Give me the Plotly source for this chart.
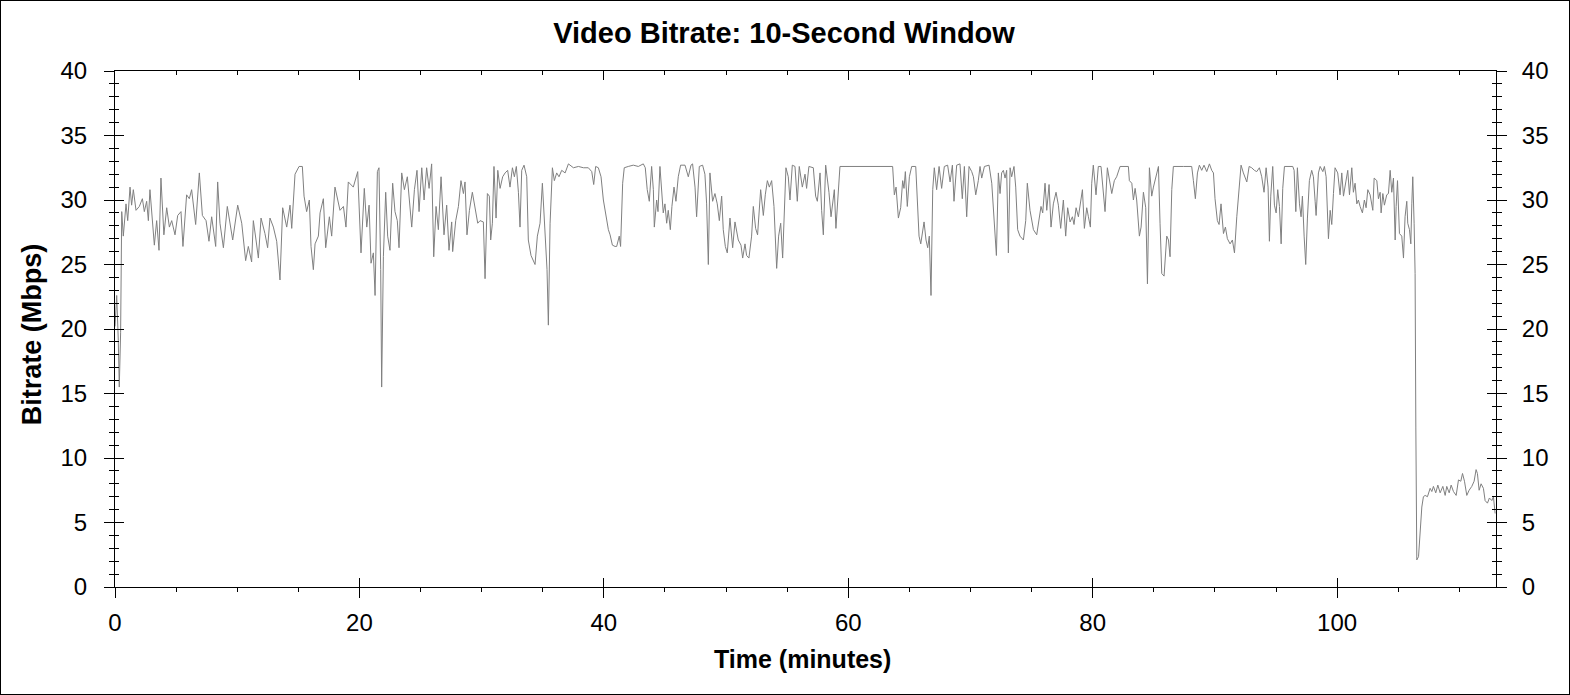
import plotly.graph_objects as go

# time in minutes and video bitrate in Mbps (10-second window)
minutes = [
    0, 0.14, 0.27, 0.35, 0.46, 0.55, 0.68, 0.9, 1.04, 1.23, 1.36, 1.5, 1.72, 1.99,
    2.24, 2.4, 2.59, 2.73, 2.86, 3.06, 3.22, 3.41, 3.6, 3.76, 4.0, 4.23, 4.45, 4.64,
    4.91, 5.13, 5.4, 5.56, 5.86, 6.08, 6.27, 6.6, 6.9, 7.15, 7.45, 7.69, 7.91, 8.24,
    8.4, 8.59, 8.87, 9.19, 9.41, 9.63, 10.04, 10.37, 10.69, 10.91, 11.18, 11.32,
    11.54, 11.73, 11.95, 12.27, 12.49, 12.68, 12.96, 13.23, 13.5, 13.72, 14.05,
    14.32, 14.46, 14.73, 15.06, 15.33, 15.47, 15.68, 15.9, 16.04, 16.23, 16.37,
    16.64, 16.78, 17.05, 17.24, 17.54, 17.73, 18.0, 18.41, 18.69, 18.9, 19.09,
    19.5, 19.86, 20.0,
    20.13, 20.4, 20.6, 20.79, 20.95, 21.14, 21.28, 21.47, 21.6, 21.74, 21.82,
    21.96, 22.15, 22.31, 22.5, 22.72, 22.91, 23.1, 23.24, 23.46, 23.68, 23.92,
    24.09, 24.28, 24.5, 24.71, 24.88, 25.1, 25.29, 25.5, 25.7, 25.91, 26.08,
    26.27, 26.46, 26.68, 26.92, 27.14, 27.33, 27.55, 27.63, 27.88, 28.1, 28.31,
    28.51, 28.64, 28.8, 29.0, 29.24, 29.46, 29.68, 29.87, 30.14, 30.28, 30.47,
    30.63, 30.74, 30.88, 31.01, 31.18, 31.32, 31.51, 31.72, 31.92, 32.13, 32.32,
    32.52, 32.68, 32.84, 33.01, 33.14, 33.28, 33.47, 33.69, 33.82, 34.04, 34.37,
    34.56, 34.78, 34.97, 35.19, 35.35, 35.46, 35.6, 35.79, 35.95, 36.14, 36.33,
    36.55, 36.83, 37.1, 37.51, 37.92, 38.33, 38.73, 39.01, 39.17, 39.33, 39.55,
    39.77, 39.96, 40.15, 40.37, 40.51, 40.7, 40.92,
    41.05, 41.26, 41.37, 41.54, 41.67, 42.0, 42.41, 42.82, 43.23, 43.39, 43.55,
    43.72, 43.91, 44.05, 44.13, 44.32, 44.43, 44.59, 44.76, 44.86, 45.0, 45.14,
    45.27, 45.44, 45.57, 45.74, 45.9, 46.09, 46.28, 46.64, 46.91, 47.13, 47.26,
    47.46, 47.59, 47.81, 48.08, 48.27, 48.41, 48.55, 48.68, 48.9, 49.09, 49.28,
    49.45, 49.64, 49.77, 49.94, 50.1, 50.32, 50.54, 50.73, 51.0, 51.22, 51.36,
    51.55, 51.68, 51.87, 52.09, 52.23, 52.42, 52.58, 52.83, 53.05, 53.21, 53.38,
    53.54, 53.73, 53.92, 54.14, 54.3, 54.47, 54.63, 54.77, 54.9, 55.09, 55.23,
    55.42, 55.64, 55.83, 55.99, 56.24, 56.46, 56.59, 56.78, 57.14, 57.33, 57.47,
    57.69, 57.82, 57.96, 58.15, 58.31, 58.42, 58.59, 58.72, 58.86, 58.99, 59.19,
    59.32, 60.14, 60.96, 61.78, 62.6, 63.2,
    63.63, 63.77, 63.91, 64.1, 64.29, 64.45, 64.56, 64.67, 64.83, 65.0, 65.19,
    65.52, 65.65, 65.79, 65.93, 66.06, 66.2, 66.36, 66.5, 66.63, 66.77, 66.91,
    67.04, 67.23, 67.43, 67.64, 67.86, 68.13, 68.33, 68.52, 68.65, 68.87, 69.14,
    69.33, 69.5, 69.69, 69.88, 70.1, 70.24, 70.43, 70.64, 70.78, 70.92, 71.14,
    71.52, 71.74, 71.95, 72.12, 72.28, 72.42, 72.55, 72.69, 72.83, 72.96, 73.1,
    73.24, 73.37, 73.56, 73.7, 73.86, 74.05, 74.33, 74.52, 74.65, 74.87, 75.15,
    75.42, 75.61, 75.77, 75.91, 76.1, 76.24, 76.43, 76.59, 76.78, 77.0, 77.19,
    77.38, 77.6, 77.79, 77.95, 78.15, 78.34, 78.47, 78.64, 78.83, 79.0, 79.16,
    79.32, 79.51, 79.65, 79.81, 79.92, 80.05, 80.27, 80.46, 80.68, 80.87, 81.01,
    81.2, 81.36, 81.56, 81.77, 81.96, 82.24, 82.92,
    83.0, 83.2, 83.33, 83.47, 83.6, 83.74, 83.82, 83.96, 84.15, 84.34, 84.48,
    84.64, 84.83, 84.97, 85.16, 85.38, 85.51, 85.65, 85.84, 86.06, 86.2, 86.33,
    86.47, 86.6, 87.42, 88.1, 88.24, 88.4, 88.57, 88.73, 88.92, 89.11, 89.33,
    89.55, 89.74, 89.88, 90.01, 90.2, 90.34, 90.5, 90.7, 90.86, 91.02, 91.24,
    91.43, 91.6, 91.79, 91.98, 92.14, 92.33, 92.47, 92.61, 92.8, 93.01, 93.23,
    93.42, 93.64, 93.83, 94.02, 94.19, 94.35, 94.46, 94.57, 94.73, 94.87, 95.01,
    95.14, 95.28, 95.42, 95.55, 95.69, 96.37, 96.48, 96.62, 96.75, 96.92, 97.05,
    97.16, 97.3, 97.43, 97.57, 97.73, 97.92, 98.06, 98.2, 98.28, 98.47, 98.61,
    98.83, 98.96, 99.1, 99.29, 99.43, 99.56, 99.7, 99.83, 100.05, 100.24, 100.38,
    100.52, 100.71, 100.87, 101.01, 101.2, 101.33, 101.47, 101.61, 101.74,
    101.88, 102.07, 102.23, 102.37, 102.51,
    102.7, 102.92, 103.03, 103.25, 103.38, 103.52, 103.6, 103.74, 103.87, 104.06,
    104.2, 104.34, 104.47, 104.61, 104.75, 104.83, 104.94, 105.1, 105.29, 105.43,
    105.56, 105.7, 105.78, 105.92, 106.03, 106.11, 106.19, 106.3, 106.38, 106.44,
    106.52, 106.66, 106.79, 106.93, 107.06, 107.2, 107.39, 107.61, 107.75, 107.88,
    108.07, 108.24, 108.43, 108.65, 108.84, 108.97, 109.17, 109.33, 109.52,
    109.74, 109.93, 110.12, 110.26, 110.42, 110.61, 110.8, 111.02, 111.21,
    111.37, 111.48, 111.62, 111.78, 111.97, 112.11, 112.3, 112.46, 112.66,
    112.79, 112.93,
]

mbps = [
    20.2, 22.6, 19.1, 15.5, 19.7, 29.1, 27.2, 29.7, 28.4, 31.0, 29.6, 30.8, 29.2, 29.5,
    30.1, 29.1, 29.9, 28.4, 30.8, 28.4, 26.5, 28.4, 26.1, 31.7, 27.3, 29.4, 27.9, 28.4,
    27.3, 28.8, 29.1, 26.4, 30.4, 30.1, 30.8, 28.1, 32.1, 28.8, 28.4, 26.8, 28.7, 26.4,
    31.4, 28.2, 26.3, 29.5, 28.3, 26.9, 29.6, 28.2, 25.3, 26.4, 25.2, 28.4,
    26.9, 25.5, 28.6, 27.4, 26.3, 28.6, 27.9, 26.8, 23.8, 29.4, 27.9,
    29.6, 27.8, 32.0, 32.6, 32.6, 30.3, 29.1, 30.0, 26.4, 24.6, 26.6,
    27.2, 29.0, 30.1, 26.3, 28.7, 27.2, 31.0, 29.2, 29.5, 27.9, 31.4,
    31.0, 32.2, 29.2,
    25.9, 30.9, 27.9, 29.6, 25.1, 25.9, 22.6, 32.2, 32.5, 24.6, 15.5,
    25.6, 30.6, 27.2, 26.1, 31.3, 29.1, 28.4, 26.3, 32.1, 30.8, 31.8,
    30.0, 27.9, 30.8, 32.3, 29.1, 32.5, 30.0, 32.5, 30.9, 32.8, 25.6,
    29.5, 27.7, 31.8, 27.3, 29.6, 26.1, 28.3, 26.0, 28.4, 29.5, 31.5,
    30.5, 31.4, 27.3, 29.2, 30.6, 29.5, 28.2, 28.4, 28.3, 23.9, 30.5,
    30.3, 26.9, 28.2, 32.6, 28.6, 32.3, 30.9, 31.8, 32.1, 32.3, 31.0,
    32.5, 31.8, 32.6, 30.6, 27.9, 32.3, 32.7, 31.8, 26.9, 25.7, 25.0,
    27.2, 28.2, 31.3, 26.9, 24.6, 20.3, 28.2, 32.5, 31.5, 32.1, 31.8,
    32.3, 32.1, 32.8, 32.5, 32.6, 32.5, 32.5, 32.2, 31.2, 32.6, 32.5,
    31.8, 30.0, 28.8, 27.7, 27.3, 26.5, 26.4,
    26.4, 27.2, 26.4, 31.3, 32.5, 32.6, 32.7, 32.6, 32.8, 32.5, 30.8,
    29.9, 32.6, 30.8, 27.9, 30.0, 29.1, 32.6, 29.7, 29.0, 29.7, 28.2,
    29.2, 27.7, 29.5, 31.0, 29.9, 31.8, 32.7, 32.7, 31.8, 32.7, 32.8,
    31.0, 28.7, 32.6, 32.7, 32.0, 29.7, 25.0, 32.1, 29.9, 30.5, 29.7,
    28.4, 30.3, 27.7, 26.4, 25.9, 28.6, 26.3, 28.3, 26.9, 26.5, 25.5,
    26.6, 25.7, 25.5, 27.2, 29.5, 27.8, 27.3, 30.8, 28.8, 30.4, 31.5,
    31.0, 31.5, 29.5, 24.7, 27.2, 28.2, 25.5, 29.5, 32.5, 31.8, 30.0,
    32.7, 32.6, 29.9, 32.6, 31.0, 32.0, 30.9, 32.6, 32.5, 30.3, 29.9,
    32.1, 29.2, 27.3, 32.7, 31.5, 30.6, 28.7, 30.0, 30.8, 27.8, 31.3,
    32.6, 32.6, 32.6, 32.6, 32.6, 32.6,
    32.6, 30.4, 31.0, 28.6, 29.4, 31.5, 30.9, 32.2, 29.5, 31.8, 32.6,
    32.6, 30.3, 27.2, 26.6, 27.5, 28.3, 26.9, 26.3, 27.2, 22.6, 30.8,
    32.5, 30.8, 32.6, 30.9, 32.6, 32.7, 31.4, 32.7, 29.9, 32.7, 32.8,
    30.1, 32.6, 28.7, 32.6, 32.2, 31.8, 30.4, 31.5, 32.6, 31.7, 32.6,
    32.7, 31.3, 28.2, 25.7, 32.1, 30.5, 32.1, 32.3, 31.7, 32.3, 25.9,
    32.5, 31.8, 32.6, 31.0, 27.7, 27.2, 26.9, 28.4, 31.3, 29.2, 27.7,
    27.3, 28.6, 29.5, 29.0, 31.3, 29.2, 31.2, 27.9, 29.7, 30.6, 29.6,
    27.8, 30.0, 27.2, 29.4, 28.3, 28.7, 28.1, 29.4, 28.7, 30.0, 30.8,
    27.8, 29.4, 28.7, 27.9, 31.3, 32.7, 30.4, 32.6, 32.6, 30.8, 29.1,
    32.5, 31.7, 30.5, 31.5, 31.8, 32.6, 32.6,
    31.5, 31.3, 30.0, 30.9, 30.0, 28.3, 27.2, 27.9, 30.6, 29.4, 23.5,
    32.5, 30.3, 31.0, 31.8, 32.6, 28.2, 24.3, 24.1, 27.2, 26.9, 25.6,
    30.8, 32.6, 32.6, 32.6, 31.5, 30.1, 32.1, 32.7, 32.3, 32.7, 32.2,
    32.8, 32.3, 32.1, 30.1, 28.4, 28.1, 29.7, 27.4, 27.9, 27.0, 26.6,
    26.9, 25.9, 28.7, 31.0, 32.7, 32.1, 31.8, 31.4, 32.6, 32.5, 32.3,
    32.2, 32.5, 31.8, 30.6, 32.5, 31.0, 26.8, 30.3, 32.6, 29.6, 29.0,
    30.8, 29.5, 26.6, 30.9, 32.6, 32.6, 32.3, 29.1, 32.5, 29.7, 28.7,
    30.3, 27.2, 25.0, 28.6, 31.5, 32.3, 31.8, 29.9, 28.8, 32.1, 32.6,
    32.2, 32.6, 31.8, 27.0, 29.2, 28.1, 30.5, 32.5, 32.1, 30.4, 32.1,
    30.3, 31.4, 32.3, 30.4, 32.5, 30.6, 31.3, 29.7, 30.0,
    29.5, 29.0, 30.0, 29.4, 30.8,
    30.4, 29.2, 31.7, 31.5, 30.1, 30.6, 29.0, 30.5, 29.6, 30.4,
    30.5, 32.3, 30.6, 31.7, 26.9, 29.5, 31.5, 27.4, 27.2, 25.5,
    28.7, 29.9, 28.2, 27.7, 26.6, 29.7, 31.8, 28.2, 24.3, 12.4,
    2.1, 2.35, 4.4, 6.2, 7.0, 7.1, 7.0, 7.65, 7.4, 7.8,
    7.3, 7.9, 7.3, 7.8, 7.1, 7.8, 7.3, 7.9, 7.4,
    7.1, 8.3, 8.2, 8.8, 8.2, 7.1, 7.5, 7.8, 8.2,
    9.1, 8.8, 7.5, 8.0, 7.65, 6.7, 6.5, 6.9, 6.7,
    7.0, 5.7,
]

x_ticks = [0, 20, 40, 60, 80, 100]
y_ticks = [0, 5, 10, 15, 20, 25, 30, 35, 40]

font = 'Liberation Sans, Arial, sans-serif'
x_range = [0, 113]
y_range = [0, 40]

fig = go.Figure()
fig.add_trace(go.Scatter(
    x=minutes,
    y=mbps,
    mode='lines',
    line=dict(color='#808080', width=1),
    showlegend=False,
    hoverinfo='x+y'))

# empty traces so the extra tick axes are drawn
for xa, ya in [('x2', 'y2'), ('x3', 'y3'), ('x2', 'y4')]:
    fig.add_trace(go.Scatter(x=[], y=[], xaxis=xa, yaxis=ya, showlegend=False))

tick_common = dict(showgrid=False, zeroline=False, tickcolor='black', tickwidth=1)

fig.update_layout(
    width=1570,
    height=695,
    paper_bgcolor='white',
    plot_bgcolor='white',
    margin=dict(l=115, r=74, t=71, b=108),
    font=dict(family=font, color='black', size=24),
    title=dict(
        text='<b>Video Bitrate: 10-Second Window</b>',
        x=0.4994, xref='container', xanchor='center',
        y=1 - 33 / 695, yref='container', yanchor='middle',
        font=dict(size=29, family=font, color='black')),
    xaxis=dict(
        range=x_range, tickmode='array', tickvals=x_ticks,
        ticks='outside', ticklen=10,
        minor=dict(ticks='outside', ticklen=4, dtick=5, tickcolor='black', showgrid=False),
        showline=True, linecolor='black', linewidth=1,
        ticklabelstandoff=4,
        tickfont=dict(size=24, family=font, color='black'),
        **tick_common),
    xaxis2=dict(
        range=x_range, overlaying='x', anchor='y', side='bottom',
        tickmode='array', tickvals=x_ticks, ticks='inside', ticklen=9,
        showticklabels=False, showline=False, **tick_common),
    xaxis3=dict(
        range=x_range, overlaying='x', anchor='y', side='top',
        tickmode='array', tickvals=x_ticks, ticks='inside', ticklen=9,
        minor=dict(ticks='inside', ticklen=4, dtick=5, tickcolor='black', showgrid=False),
        showticklabels=False, showline=True, linecolor='black', linewidth=1,
        **tick_common),
    yaxis=dict(
        range=y_range, tickmode='array', tickvals=y_ticks,
        ticks='outside', ticklen=10,
        minor=dict(ticks='outside', ticklen=5, dtick=1, tickcolor='black', showgrid=False),
        showline=True, linecolor='black', linewidth=1,
        ticklabelstandoff=12,
        tickfont=dict(size=24, family=font, color='black'),
        **tick_common),
    yaxis2=dict(
        range=y_range, overlaying='y', anchor='x', side='left',
        tickmode='array', tickvals=y_ticks, ticks='inside', ticklen=9,
        minor=dict(ticks='inside', ticklen=4, dtick=1, tickcolor='black', showgrid=False),
        showticklabels=False, showline=False, **tick_common),
    yaxis3=dict(
        range=y_range, overlaying='y', anchor='x', side='right',
        tickmode='array', tickvals=y_ticks, ticks='outside', ticklen=10,
        minor=dict(ticks='outside', ticklen=5, dtick=1, tickcolor='black', showgrid=False),
        showline=True, linecolor='black', linewidth=1,
        ticklabelstandoff=10,
        tickfont=dict(size=24, family=font, color='black'),
        **tick_common),
    yaxis4=dict(
        range=y_range, overlaying='y', anchor='x', side='right',
        tickmode='array', tickvals=y_ticks, ticks='inside', ticklen=9,
        minor=dict(ticks='inside', ticklen=4, dtick=1, tickcolor='black', showgrid=False),
        showticklabels=False, showline=False, **tick_common),
    annotations=[
        dict(text='<b>Time (minutes)</b>', xref='paper', yref='paper',
             x=0.498, y=(587 - 659) / 516, xanchor='center', yanchor='middle',
             showarrow=False, font=dict(size=25, family=font, color='black')),
        dict(text='<b>Bitrate (Mbps)</b>', xref='paper', yref='paper',
             x=(32 - 115) / 1381, y=0.49, xanchor='center', yanchor='middle',
             textangle=-90, showarrow=False,
             font=dict(size=27, family=font, color='black')),
    ],
    shapes=[
        # thin frame round the whole picture
        dict(type='rect', xref='paper', yref='paper',
             x0=-115 / 1381, x1=1 + 74 / 1381, y0=-108 / 516, y1=1 + 71 / 516,
             line=dict(color='black', width=2)),
    ])

# drop the default page margin so the figure sits at the window corner
fig.write_html("out.html", config={'displayModeBar': False},
               post_script="document.body.style.margin='0';")
